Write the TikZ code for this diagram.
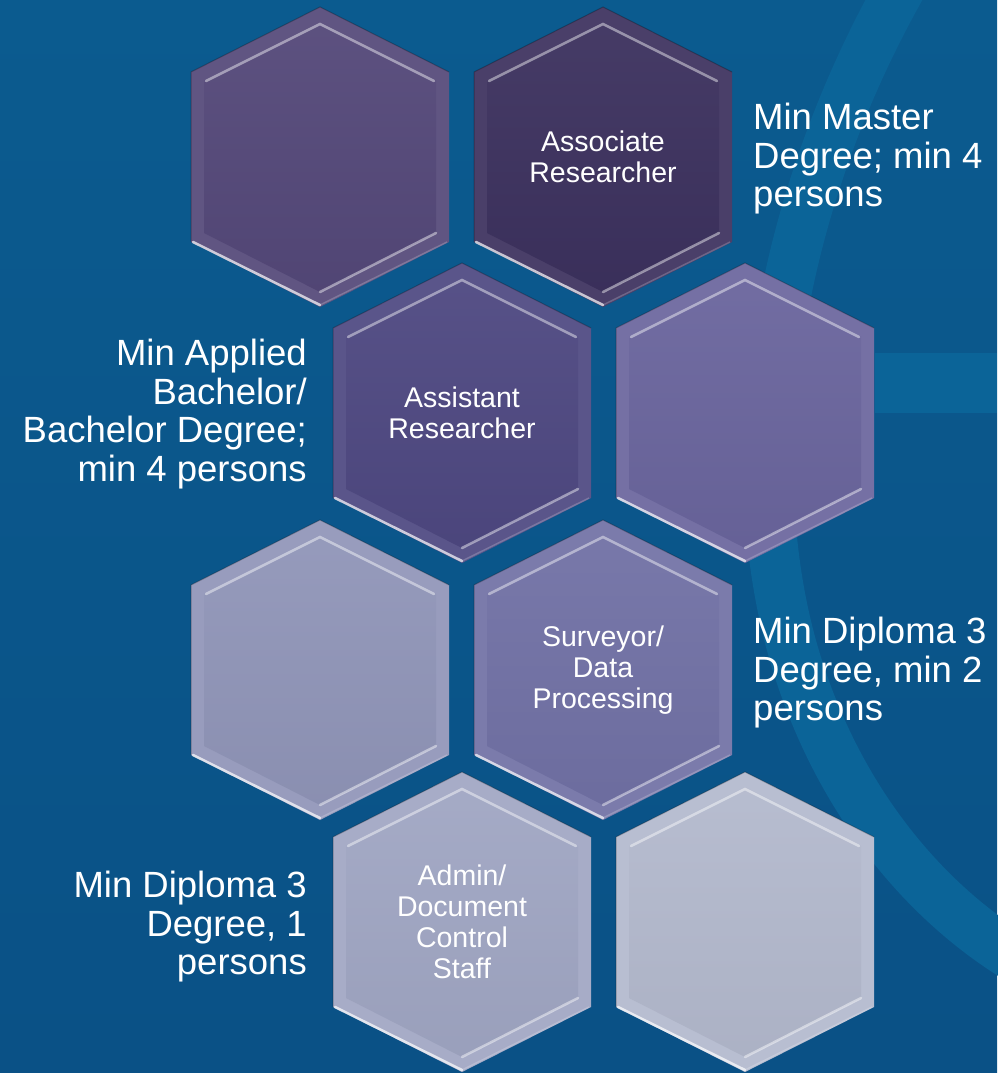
\documentclass[tikz,border=0pt]{standalone}
\usepackage{fontspec}
\setmainfont{Liberation Sans}
\usepackage{tikz}
\usetikzlibrary{positioning}

\definecolor{bgTop}{HTML}{0B5B8F}
\definecolor{bgBottom}{HTML}{0A5186}
\definecolor{bgArc}{HTML}{0B6498}
\definecolor{cellA}{HTML}{544879}
\definecolor{cellB}{HTML}{3C315E}
\definecolor{cellC}{HTML}{4E4881}
\definecolor{cellD}{HTML}{6A659D}
\definecolor{cellE}{HTML}{9095B8}
\definecolor{cellF}{HTML}{7171A5}
\definecolor{cellG}{HTML}{A0A6C3}
\definecolor{cellH}{HTML}{B3B9CD}

\begin{document}
\begin{tikzpicture}[
    x=1pt, y=-1pt,
    cell/.style={text=white, inner sep=0pt, align=center,
        font=\fontsize{28.5}{31}\selectfont},
    note/.style={text=white, inner sep=0pt,
        font=\fontsize{36.5}{38.5}\selectfont},
    shine/.style={draw=white, line width=2.5pt, line cap=round}
]
\useasboundingbox (0,0) rectangle (997,1073);
\shade[top color=bgTop, bottom color=bgBottom] (0,0) rectangle (997,1073);

% faint ring behind the cells
\draw[bgArc, line width=50pt] (905,-20) .. controls (790,180) and (735,430) .. (790,640)
    .. controls (830,790) and (920,900) .. (1020,960);
\fill[bgArc] (875,353) rectangle (997,413);

% honeycomb
\foreach \n/\x/\y/\c in {cellA/320/157/cellA, cellB/603/157/cellB,
                         cellC/462/413/cellC, cellD/745/413/cellD,
                         cellE/320/670/cellE, cellF/603/670/cellF,
                         cellG/462/922/cellG, cellH/745/922/cellH}{
  \begin{scope}[shift={(\x,\y)}]
    \fill[\c!93!white] (0,-150) -- (129,-85) -- (129,85) -- (0,150)
        -- (-129,85) -- (-129,-85) -- cycle;
    \draw[black, opacity=0.25, line width=1pt] (-129,85) -- (-129,-85) -- (0,-150) -- (129,-85);
    \shade[top color=\c!95!white, bottom color=\c!96!black] (0,-135) -- (116,-76) -- (116,76)
        -- (0,135) -- (-116,76) -- (-116,-76) -- cycle;
    \draw[shine, opacity=0.45] (-114,-76) -- (0,-133) -- (114,-76);
    \draw[shine, opacity=0.7] (-127,85) -- (0,148);
    \draw[shine, opacity=0.45] (0,135) -- (116,76);
    \draw[white, opacity=0.2, line width=1.5pt] (0,148) -- (127,85);
  \end{scope}
  \coordinate (\n) at (\x,\y);
}

% roles
\node[cell] (assocText) at (cellB) {Associate\\Researcher};
\node[cell] (assistText) at (cellC) {Assistant\\Researcher};
\node[cell] (surveyText) at (cellF) {Surveyor/\\Data\\Processing};
\node[cell] (adminText) at (cellG) {Admin/\\Document\\Control\\Staff};

% requirements
\node[note, anchor=north west, align=left] (masterNote) at (753,103)
    {Min Master\\Degree; min 4\\persons};
\node[note, anchor=north east, align=right] (bachelorNote) at (307,339)
    {Min Applied\\Bachelor/\\Bachelor Degree;\\min 4 persons};
\node[note, anchor=north west, align=left] (surveyNote) at (753,617)
    {Min Diploma 3\\Degree, min 2\\persons};
\node[note, anchor=north east, align=right] (adminNote) at (307,871)
    {Min Diploma 3\\Degree, 1\\persons};
\end{tikzpicture}
\end{document}
